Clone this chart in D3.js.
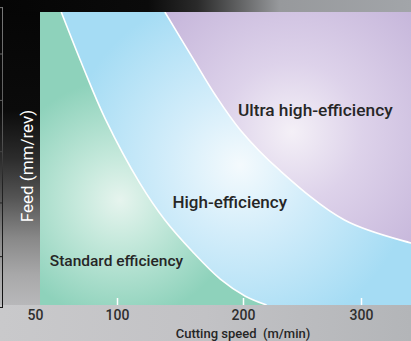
<!DOCTYPE html>
<html><head><meta charset="utf-8">
<script src="https://cdn.jsdelivr.net/npm/d3@7"></script>
<style>html,body{margin:0;padding:0;background:#c6c6c8;overflow:hidden}svg{display:block}</style>
</head><body>
<script>
// ---- data ----
const xTickValues = [50, 100, 200, 300];
const xTickLabels = ["50", "100", "200", "300"];
// boundary between standard and high efficiency (cutting speed m/min, feed mm/rev)
const stdHighSpeed = [66, 79, 93, 118, 138, 160, 182, 202, 220];
const stdHighFeed  = [0.60, 0.49, 0.38, 0.25, 0.174, 0.109, 0.053, 0.018, 0.0];
// boundary between high and ultra high efficiency
const highUltraSpeed = [138, 160, 178, 198, 231, 286, 342, 370];
const highUltraFeed  = [0.60, 0.506, 0.43, 0.358, 0.276, 0.174, 0.127, 0.112];
const regionNames = ["Standard efficiency", "High-efficiency", "Ultra high-efficiency"];
const regionLabelSpeed = [59, 144, 196];
const regionLabelFeed = [0.08, 0.198, 0.387];
const xTitle = "Cutting speed\u00a0 (m/min)";
const yTitle = "Feed (mm/rev)";
const leftRuleFeeds = [0.61, 0.515, 0.42, 0.315, 0.21, 0.10, -0.004];

const W = 411, H = 341;
const plot = {l: 40, t: 12, r: 411, b: 305};

const svg = d3.select("body").append("svg").attr("width", W).attr("height", H);
const defs = svg.append("defs");

function lin(id, x1, y1, x2, y2, stops) {
  const g = defs.append("linearGradient").attr("id", id).attr("gradientUnits", "userSpaceOnUse")
    .attr("x1", x1).attr("y1", y1).attr("x2", x2).attr("y2", y2);
  stops.forEach(s => g.append("stop").attr("offset", s[0]).attr("stop-color", s[1]));
}
function rad(id, cx, cy, r, stops) {
  const g = defs.append("radialGradient").attr("id", id).attr("gradientUnits", "userSpaceOnUse")
    .attr("cx", cx).attr("cy", cy).attr("r", r);
  stops.forEach(s => g.append("stop").attr("offset", s[0]).attr("stop-color", s[1]));
}
lin("gBottom", 0, 0, W, 0, [[0, "#c9c9cb"], [0.5, "#c2c2c5"], [1, "#b3b5b8"]]);
lin("gLeft", 0, 0, 0, plot.b, [[0, "#050505"], [0.36, "#0b0b0b"], [0.52, "#2c2c2c"], [0.65, "#555"], [0.78, "#888"], [0.9, "#a8a8a9"], [1, "#b8b8ba"]]);
lin("gTop", 0, 0, W, 0, [[0, "#050505"], [0.36, "#0b0b0b"], [0.48, "#2a2a2a"], [0.58, "#606162"], [0.68, "#97999c"], [1, "#a2a5a9"]]);
lin("gRule", 0, 0, 0, plot.b, [[0, "#7a7a7a"], [0.45, "#555"], [0.6, "#222"], [1, "#111"]]);
rad("gGreen", 120, 200, 120, [[0, "#e6f4ee"], [0.35, "#c6e9dc"], [1, "#8ed2bb"]]);
rad("gBlue", 240, 165, 175, [[0, "#f4fafd"], [0.4, "#d3edfa"], [1, "#a5dcf4"]]);
rad("gPurple", 292, 132, 175, [[0, "#f4f0f7"], [0.4, "#ddd2ea"], [1, "#c5b5da"]]);
defs.append("clipPath").attr("id", "clipPlot").append("rect")
  .attr("x", plot.l).attr("y", plot.t).attr("width", plot.r - plot.l).attr("height", plot.b - plot.t);

// background
svg.append("rect").attr("width", W).attr("height", H).attr("fill", "url(#gBottom)");
svg.append("rect").attr("width", plot.l).attr("height", plot.b).attr("fill", "url(#gLeft)");
svg.append("rect").attr("width", W).attr("height", plot.t).attr("fill", "url(#gTop)");

// scales
const x = d3.scaleLinear().domain([50, 100, 200, 300, 342]).range([35, 117, 243, 361, 411]);
const y = d3.scaleLinear().domain([0, 0.6]).range([plot.b, plot.t]);

// left rules (cropped table edge)
const rules = svg.append("g");
rules.append("line").attr("x1", 2.5).attr("x2", 2.5).attr("y1", y(leftRuleFeeds[0])).attr("y2", y(leftRuleFeeds[leftRuleFeeds.length - 1]))
  .attr("stroke", "url(#gRule)").attr("stroke-width", 1);
rules.selectAll("line.h").data(leftRuleFeeds).join("line").attr("class", "h")
  .attr("x1", 0).attr("x2", 3).attr("y1", d => y(d) + 0.5).attr("y2", d => y(d) + 0.5)
  .attr("stroke", "url(#gRule)").attr("stroke-width", 1);

const b1 = stdHighSpeed.map((s, i) => ({s, f: stdHighFeed[i]}));
const b2 = highUltraSpeed.map((s, i) => ({s, f: highUltraFeed[i]}));
const curve = d3.curveCatmullRom.alpha(0.5);

const g = svg.append("g").attr("clip-path", "url(#clipPlot)");
g.append("rect").attr("x", plot.l).attr("y", plot.t).attr("width", plot.r - plot.l).attr("height", plot.b - plot.t)
  .attr("fill", "url(#gBlue)");
g.append("path").datum(b2).attr("fill", "url(#gPurple)")
  .attr("d", d3.area().curve(curve).x(d => x(d.s)).y0(d => y(d.f)).y1(plot.t - 5));
g.append("path").datum(b1).attr("fill", "url(#gGreen)")
  .attr("d", d3.area().curve(curve).y(d => y(d.f)).x0(plot.l - 5).x1(d => x(d.s)));
const line = d3.line().curve(curve).x(d => x(d.s)).y(d => y(d.f));
[b1, b2].forEach(b => g.append("path").datum(b).attr("fill", "none").attr("stroke", "#fff").attr("stroke-width", 1.6).attr("d", line));

// region labels
g.selectAll("text.region").data(regionNames).join("text").attr("class", "region")
  .attr("x", (d, i) => x(regionLabelSpeed[i])).attr("y", (d, i) => y(regionLabelFeed[i]))
  .attr("font-family", "Roboto, 'Liberation Sans', sans-serif").attr("font-weight", 500)
  .attr("font-size", (d, i) => [15.5, 17, 17.3][i] + "px").attr("fill", "#262626").text(d => d);

// x axis
const axis = d3.axisBottom(x).tickValues(xTickValues).tickFormat((d, i) => xTickLabels[i])
  .tickSizeInner(-7).tickSizeOuter(0).tickPadding(5);
const ax = svg.append("g").attr("transform", `translate(0,${plot.b})`).call(axis);
ax.select(".domain").remove();
ax.selectAll(".tick line").attr("stroke", "#fff").attr("stroke-width", 1.5)
  .attr("display", d => x(d) < plot.l ? "none" : null);
ax.selectAll(".tick text").attr("fill", "#2e2e2e").attr("font-size", "14px")
  .attr("font-family", "Roboto, 'Liberation Sans', sans-serif").attr("font-weight", 500);

svg.append("text").attr("x", x(200)).attr("y", 338).attr("text-anchor", "middle")
  .attr("font-family", "Roboto, 'Liberation Sans', sans-serif").attr("font-weight", 500)
  .attr("font-size", "13px").attr("fill", "#262626").text(xTitle);
svg.append("text").attr("transform", `translate(33,${(y(0.61) + plot.b) / 2 + 10}) rotate(-90)`).attr("text-anchor", "middle")
  .attr("font-family", "Roboto, 'Liberation Sans', sans-serif")
  .attr("font-size", "17px").attr("fill", "#ffffff").text(yTitle);
</script>
</body></html>
